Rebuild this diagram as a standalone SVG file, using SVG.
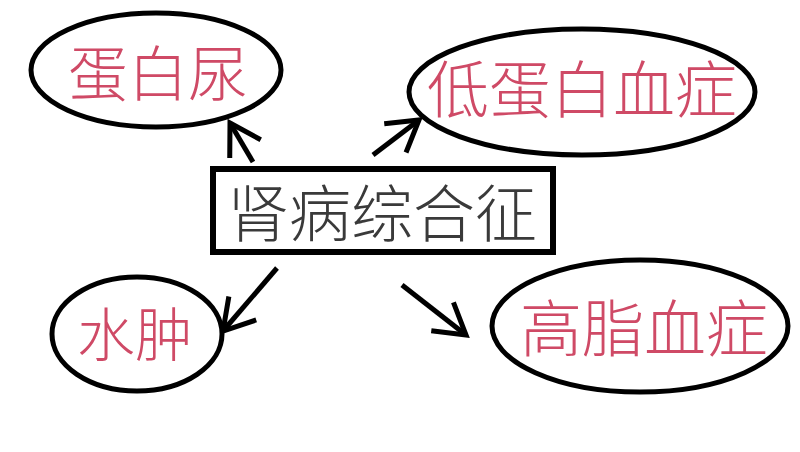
<svg xmlns="http://www.w3.org/2000/svg" width="800" height="452" viewBox="0 0 800 452">
<style>
.node ellipse{fill:#fff;stroke:#000;stroke-width:5}
.node rect{fill:#fff;stroke:#000;stroke-width:6}
.lbl{font-family:"Noto Sans CJK SC","Noto Sans CJK JP",sans-serif;font-weight:300;text-anchor:middle;fill:#cf4a66}
.main{fill:#3a3a3a}
.conn line{stroke:#000;stroke-width:5;fill:none}
</style>
<defs>
<marker id="ah" markerUnits="userSpaceOnUse" viewBox="-40 -25 46 50" refX="0" refY="0" markerWidth="46" markerHeight="50" orient="auto">
<path d="M-30,-18 L0,0 L-30,18" fill="none" stroke="#000" stroke-width="5"/>
</marker>
</defs>
<rect width="800" height="452" fill="#fff"/>
<g id="connectors" class="conn">
<line x1="253" y1="162" x2="230" y2="123" marker-end="url(#ah)"/>
<line x1="373" y1="155" x2="419" y2="120" marker-end="url(#ah)"/>
<line x1="277" y1="268" x2="223" y2="331" marker-end="url(#ah)"/>
<line x1="402" y1="285" x2="466" y2="335" marker-end="url(#ah)"/>
</g>
<g id="node-danbainiao" class="node">
<ellipse cx="156" cy="70" rx="125" ry="57"/>
<text class="lbl" x="158" y="96" font-size="60">蛋白尿</text>
</g>
<g id="node-didanbaixuezheng" class="node">
<ellipse cx="582" cy="92" rx="173" ry="63"/>
<text class="lbl" x="582" y="113" font-size="62">低蛋白血症</text>
</g>
<g id="node-shenbingzonghezheng" class="node">
<rect x="213" y="169" width="340" height="83"/>
<text class="lbl main" x="382" y="237" font-size="62">肾病综合征</text>
</g>
<g id="node-shuizhong" class="node">
<ellipse cx="137" cy="334" rx="85" ry="57"/>
<text class="lbl" x="135" y="356" font-size="58">水肿</text>
</g>
<g id="node-gaozhixuezheng" class="node">
<ellipse cx="640" cy="326" rx="148" ry="66"/>
<text class="lbl" x="644" y="352" font-size="62">高脂血症</text>
</g>
</svg>
